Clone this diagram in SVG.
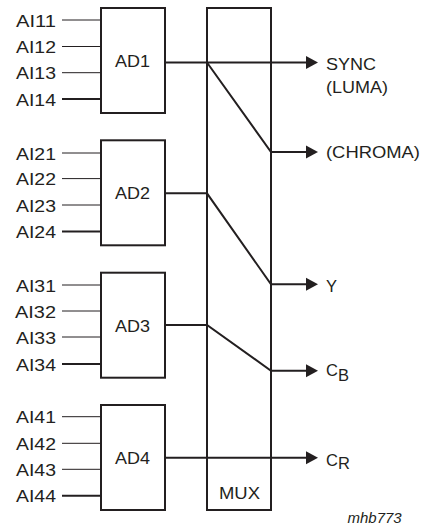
<svg xmlns="http://www.w3.org/2000/svg" width="430" height="529" viewBox="0 0 430 529">
<style>
.box{fill:none;stroke:#231f20;stroke-width:2}
.in{stroke:#231f20;stroke-width:1;fill:none}
.inb{stroke:#231f20;stroke-width:2;fill:none}
.w{stroke:#231f20;stroke-width:2;fill:none;stroke-linejoin:miter}
.ah{fill:#231f20;stroke:none}
text{font-family:"Liberation Sans",Arial,sans-serif;font-size:16.5px;fill:#231f20}
.note{font-size:15px;font-style:italic}
</style>
<rect width="430" height="529" fill="#fff"/>
<g id="AD1">
<rect class="box" x="101" y="8" width="64" height="105"/>
<text x="115" y="66.7" textLength="35" lengthAdjust="spacingAndGlyphs">AD1</text>
<line class="in" x1="62" y1="20" x2="101" y2="20"/>
<line class="in" x1="62" y1="46.5" x2="101" y2="46.5"/>
<line class="in" x1="62" y1="72.7" x2="101" y2="72.7"/>
<line class="inb" x1="62" y1="99" x2="101" y2="99"/>
<text x="16" y="26.5" textLength="40" lengthAdjust="spacingAndGlyphs">AI11</text>
<text x="16" y="53" textLength="40" lengthAdjust="spacingAndGlyphs">AI12</text>
<text x="16" y="79.2" textLength="40" lengthAdjust="spacingAndGlyphs">AI13</text>
<text x="16" y="105.5" textLength="40" lengthAdjust="spacingAndGlyphs">AI14</text>
</g>
<g id="AD2">
<rect class="box" x="101" y="140.3" width="64" height="105"/>
<text x="115" y="199" textLength="35" lengthAdjust="spacingAndGlyphs">AD2</text>
<line class="in" x1="62" y1="153" x2="101" y2="153"/>
<line class="in" x1="62" y1="178.6" x2="101" y2="178.6"/>
<line class="in" x1="62" y1="205" x2="101" y2="205"/>
<line class="inb" x1="62" y1="231.5" x2="101" y2="231.5"/>
<text x="16" y="159.5" textLength="40" lengthAdjust="spacingAndGlyphs">AI21</text>
<text x="16" y="185.1" textLength="40" lengthAdjust="spacingAndGlyphs">AI22</text>
<text x="16" y="211.5" textLength="40" lengthAdjust="spacingAndGlyphs">AI23</text>
<text x="16" y="238" textLength="40" lengthAdjust="spacingAndGlyphs">AI24</text>
</g>
<g id="AD3">
<rect class="box" x="101" y="272.7" width="64" height="105"/>
<text x="115" y="331.5" textLength="35" lengthAdjust="spacingAndGlyphs">AD3</text>
<line class="in" x1="62" y1="285" x2="101" y2="285"/>
<line class="in" x1="62" y1="311" x2="101" y2="311"/>
<line class="in" x1="62" y1="337" x2="101" y2="337"/>
<line class="inb" x1="62" y1="364" x2="101" y2="364"/>
<text x="16" y="291.5" textLength="40" lengthAdjust="spacingAndGlyphs">AI31</text>
<text x="15" y="317.5" textLength="41" lengthAdjust="spacingAndGlyphs">AI32</text>
<text x="16" y="343.5" textLength="40" lengthAdjust="spacingAndGlyphs">AI33</text>
<text x="16" y="370.5" textLength="40" lengthAdjust="spacingAndGlyphs">AI34</text>
</g>
<g id="AD4">
<rect class="box" x="101" y="405" width="64" height="105"/>
<text x="115" y="463.5" textLength="35" lengthAdjust="spacingAndGlyphs">AD4</text>
<line class="in" x1="62" y1="416.7" x2="101" y2="416.7"/>
<line class="in" x1="62" y1="443.3" x2="101" y2="443.3"/>
<line class="in" x1="62" y1="469.3" x2="101" y2="469.3"/>
<line class="inb" x1="62" y1="495.7" x2="101" y2="495.7"/>
<text x="16" y="423.2" textLength="40" lengthAdjust="spacingAndGlyphs">AI41</text>
<text x="16" y="449.8" textLength="40" lengthAdjust="spacingAndGlyphs">AI42</text>
<text x="16" y="475.8" textLength="40" lengthAdjust="spacingAndGlyphs">AI43</text>
<text x="16" y="502.2" textLength="40" lengthAdjust="spacingAndGlyphs">AI44</text>
</g>
<g id="MUX">
<rect class="box" x="207" y="8" width="64" height="502"/>
<text x="219" y="499" textLength="41" lengthAdjust="spacingAndGlyphs">MUX</text>
</g>
<g id="connectors">
<path class="w" d="M165,62.5 H307"/>
<path class="w" d="M207,62.5 L271,152 H307"/>
<path class="w" d="M165,193.3 H207 L271,284.3 H307"/>
<path class="w" d="M165,325 H207 L271,370.7 H307"/>
<path class="w" d="M165,457.7 H307"/>
<polygon class="ah" points="306,56 318,62.5 306,69"/>
<polygon class="ah" points="306,145.5 318,152 306,158.5"/>
<polygon class="ah" points="306,277.8 318,284.3 306,290.8"/>
<polygon class="ah" points="306,364.2 318,370.7 306,377.2"/>
<polygon class="ah" points="306,451.2 318,457.7 306,464.2"/>
</g>
<g id="labels">
<text x="326" y="69.5" textLength="50" lengthAdjust="spacingAndGlyphs">SYNC</text>
<text x="326" y="92.5" textLength="62" lengthAdjust="spacingAndGlyphs">(LUMA)</text>
<text x="326" y="157.5" textLength="94" lengthAdjust="spacingAndGlyphs">(CHROMA)</text>
<text x="326" y="291.7">Y</text>
<text x="326" y="375.8">C<tspan dy="5.2">B</tspan></text>
<text x="326" y="465.6">C<tspan dy="3">R</tspan></text>
<text class="note" x="347.5" y="523">mhb773</text>
</g>
</svg>
